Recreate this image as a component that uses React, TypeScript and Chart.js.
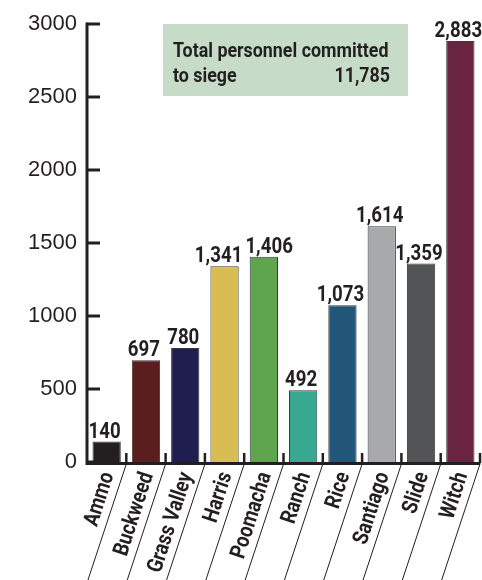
import React, { useEffect, useRef } from 'react';
import { Chart, registerables } from 'chart.js';

Chart.register(...registerables);

const categories = ['Ammo', 'Buckweed', 'Grass Valley', 'Harris', 'Poomacha', 'Ranch', 'Rice', 'Santiago', 'Slide', 'Witch'];
const personnel = [140, 697, 780, 1341, 1406, 492, 1073, 1614, 1359, 2883];
const barColors = ['#231f20', '#5a1e1f', '#1f1e4e', '#d8bd53', '#5fa54f', '#39a892', '#22577a', '#a8a9ab', '#535456', '#6a2340'];
const yTickValues = [0, 500, 1000, 1500, 2000, 2500, 3000];
const noteLine1 = 'Total personnel committed';
const noteLine2 = 'to siege';

const INK = '#231f20';
const COND = 'Roboto, "Liberation Sans", sans-serif';
const REGULAR = '"Liberation Sans", Arial, sans-serif';
const SQUEEZE = 0.85;
const ROT = 72;

function condText(ctx: CanvasRenderingContext2D, text: string, x: number, y: number, angle = 0) {
  ctx.save();
  ctx.translate(x, y);
  if (angle) ctx.rotate(angle);
  ctx.scale(SQUEEZE, 1);
  ctx.fillText(text, 0, 0);
  ctx.restore();
}

export default function App() {
  const ref = useRef<HTMLCanvasElement>(null);

  useEffect(() => {
    if (!ref.current) return;
    const total = personnel.reduce((a, b) => a + b, 0);

    const decor = {
      id: 'decor',
      afterDraw(chart: any) {
        const { ctx, chartArea, scales } = chart;
        const x = scales.x;
        const y = scales.y;
        const left = chartArea.left;
        const bottom = chartArea.bottom;
        const half = (x.getPixelForValue(1) - x.getPixelForValue(0)) / 2;
        ctx.save();

        // annotation box
        const bx = left + 76;
        const by = chartArea.top;
        ctx.fillStyle = '#c6dcc8';
        ctx.fillRect(bx, by, 245, 72);
        ctx.fillStyle = INK;
        ctx.font = `bold 21px ${COND}`;
        ctx.textBaseline = 'alphabetic';
        ctx.textAlign = 'left';
        condText(ctx, noteLine1, bx + 10, by + 33);
        condText(ctx, noteLine2, bx + 10, by + 58);
        ctx.textAlign = 'right';
        condText(ctx, total.toLocaleString('en-US'), bx + 227, by + 58);

        // value labels, nudged apart where neighbours collide
        const meta = chart.getDatasetMeta(0);
        ctx.font = `bold 22px ${COND}`;
        ctx.textAlign = 'center';
        ctx.textBaseline = 'alphabetic';
        const labels = meta.data.map((bar: any, i: number) => {
          const t = personnel[i].toLocaleString('en-US');
          const w = ctx.measureText(t).width * SQUEEZE;
          return { t, w, cx: bar.x - 2, by: bar.y - 4 };
        });
        for (let i = 0; i < labels.length - 1; i++) {
          const a = labels[i];
          const b = labels[i + 1];
          if (Math.abs(a.by - b.by) < 18) {
            const need = a.cx + a.w / 2 + 3 - (b.cx - b.w / 2);
            if (need > 0) {
              a.cx -= need * 0.35;
              b.cx += need * 0.65;
            }
          }
        }
        labels.forEach((l: any) => condText(ctx, l.t, l.cx, l.by));

        // category labels (rotated)
        ctx.font = `bold 22px ${COND}`;
        ctx.textAlign = 'right';
        ctx.textBaseline = 'middle';
        const ang = (-ROT * Math.PI) / 180;
        categories.forEach((c, i) => {
          const px = x.getPixelForValue(i);
          condText(ctx, c, px + 2, bottom + 11, ang);
        });

        ctx.strokeStyle = INK;
        // y axis ticks (inward)
        ctx.lineWidth = 3;
        yTickValues.forEach((v) => {
          const py = y.getPixelForValue(v);
          ctx.beginPath();
          ctx.moveTo(left, py);
          ctx.lineTo(left + 13, py);
          ctx.stroke();
        });
        // axes lines
        ctx.beginPath();
        ctx.moveTo(left, chartArea.top - 1.5);
        ctx.lineTo(left, bottom + 1.5);
        ctx.lineTo(chartArea.right, bottom + 1.5);
        ctx.stroke();

        // x inward ticks at category boundaries
        ctx.lineWidth = 2.5;
        categories.forEach((_, i) => {
          const px = x.getPixelForValue(i) + half;
          ctx.beginPath();
          ctx.moveTo(px, bottom + 1.5);
          ctx.lineTo(px, bottom - 9);
          ctx.stroke();
        });

        // slanted separators below
        ctx.lineWidth = 1;
        const H = chart.height - bottom;
        const dx = H / Math.tan((ROT * Math.PI) / 180);
        categories.forEach((_, i) => {
          const px = x.getPixelForValue(i) + half;
          ctx.beginPath();
          ctx.moveTo(px, bottom + 2);
          ctx.lineTo(px - dx, chart.height);
          ctx.stroke();
        });
        ctx.restore();
      },
    };

    const chart = new Chart(ref.current, {
      type: 'bar',
      data: {
        labels: categories,
        datasets: [
          {
            data: personnel,
            backgroundColor: barColors,
            borderColor: '#3a3a3a',
            borderWidth: 1,
            barPercentage: 0.72,
            categoryPercentage: 1,
          },
        ],
      },
      options: {
        animation: false,
        responsive: true,
        maintainAspectRatio: false,
        layout: { padding: { top: 24, right: 2, left: 0, bottom: 0 } },
        plugins: { legend: { display: false }, tooltip: { enabled: false } },
        scales: {
          x: {
            grid: { display: false, drawTicks: false },
            border: { display: false },
            ticks: { display: false },
            afterFit: (s: any) => {
              s.height = 118;
            },
          },
          y: {
            min: 0,
            max: 3000,
            grid: { display: false, drawTicks: false },
            border: { display: false },
            afterBuildTicks: (s: any) => {
              s.ticks = yTickValues.map((v) => ({ value: v }));
            },
            ticks: {
              color: INK,
              font: { family: REGULAR, size: 22 },
              padding: 10,
              callback: (v: any) => String(v),
            },
            afterFit: (s: any) => {
              s.width = 87;
            },
          },
        },
      },
      plugins: [decor],
    });
    return () => chart.destroy();
  }, []);

  return (
    <div style={{ position: 'fixed', left: 0, top: 0, width: 482, height: 580, background: '#fff' }}>
      <canvas ref={ref} />
    </div>
  );
}
